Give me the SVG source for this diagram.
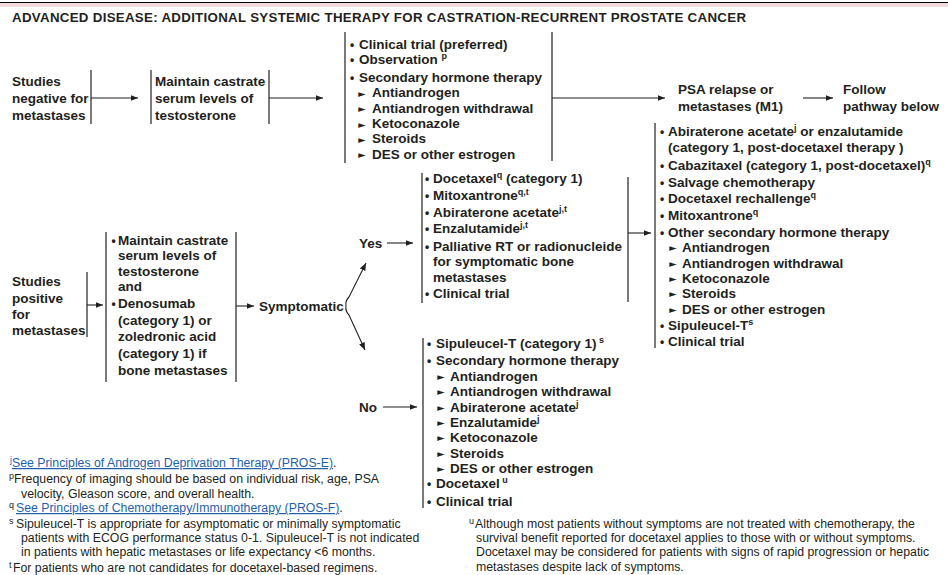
<svg xmlns="http://www.w3.org/2000/svg" width="948" height="575" viewBox="0 0 948 575">
<style>
text{font-family:"Liberation Sans",Arial,sans-serif;fill:#231f20}
.b{font-weight:bold;font-size:13.5px}
.t{font-weight:bold;font-size:13.3px}
.f{font-size:12.3px}
.s{font-size:9px}
.bu{font-weight:bold;font-size:12px}
.tri{font-family:"DejaVu Sans",sans-serif;font-size:9.5px}
.lk{fill:#1f5fae;text-decoration:underline}
.ln{stroke:#231f20;stroke-width:1.1;fill:none}
.bar{stroke:#231f20;stroke-width:1.2}
</style>
<defs>
<marker id="ah" markerWidth="8" markerHeight="6" refX="7.5" refY="3" orient="auto" markerUnits="userSpaceOnUse">
<path d="M0,0 L7.5,3 L0,6 z" fill="#231f20"/>
</marker>
</defs>
<line x1="0" y1="2.5" x2="948" y2="2.5" stroke="#000" stroke-width="1.2"/>
<rect x="0" y="3.2" width="948" height="3.6" fill="#f3d8dc"/>
<text id="title" class="t" x="12" y="22" textLength="734">ADVANCED DISEASE: ADDITIONAL SYSTEMIC THERAPY  FOR CASTRATION-RECURRENT PROSTATE CANCER</text>

<g id="connectors">
<line class="bar" x1="91" y1="70" x2="91" y2="124"/>
<line class="ln" x1="91" y1="98" x2="138" y2="98" marker-end="url(#ah)"/>
<line class="bar" x1="151" y1="70" x2="151" y2="124"/>
<line class="bar" x1="269" y1="70" x2="269" y2="124"/>
<line class="ln" x1="269" y1="98" x2="323" y2="98" marker-end="url(#ah)"/>
<line class="bar" x1="345" y1="32" x2="345" y2="163"/>
<line class="bar" x1="552" y1="32" x2="552" y2="161"/>
<line class="ln" x1="552" y1="98" x2="665" y2="98" marker-end="url(#ah)"/>
<line class="ln" x1="803" y1="98" x2="833" y2="98" marker-end="url(#ah)"/>
<line class="bar" x1="655" y1="123" x2="655" y2="348"/>
<line class="bar" x1="87" y1="272" x2="87" y2="337"/>
<line class="ln" x1="87" y1="305" x2="103" y2="305" marker-end="url(#ah)"/>
<line class="bar" x1="106" y1="232" x2="106" y2="382"/>
<line class="bar" x1="236" y1="232" x2="236" y2="382"/>
<line class="ln" x1="236" y1="306" x2="254" y2="306" marker-end="url(#ah)"/>
<path class="ln" d="M346,306 Q345,301 349,297 L366,263" marker-end="url(#ah)"/>
<path class="ln" d="M346,306 Q345,311 349,315 L365,350" marker-end="url(#ah)"/>
<line class="ln" x1="387" y1="243" x2="413" y2="243" marker-end="url(#ah)"/>
<line class="bar" x1="422" y1="173" x2="422" y2="303"/>
<line class="bar" x1="628" y1="177" x2="628" y2="302"/>
<line class="ln" x1="628" y1="233" x2="651" y2="233" marker-end="url(#ah)"/>
<line class="ln" x1="383" y1="407" x2="417" y2="407" marker-end="url(#ah)"/>
<line class="bar" x1="423" y1="338" x2="423" y2="508"/>
</g>

<g id="neg-studies">
<text class="b" x="12" y="86">Studies</text>
<text class="b" x="12" y="103">negative for</text>
<text class="b" x="12" y="120">metastases</text>
</g>
<g id="neg-maintain">
<text class="b" x="155" y="86">Maintain castrate</text>
<text class="b" x="155" y="103">serum levels of</text>
<text class="b" x="155" y="120">testosterone</text>
</g>
<g id="neg-options">
<text class="bu" x="352" y="48.5" text-anchor="middle">•</text><text class="b" x="359" y="48.5">Clinical trial (preferred)</text>
<text class="bu" x="352" y="64" text-anchor="middle">•</text><text class="b" x="359" y="64">Observation <tspan class="s" dy="-5">p</tspan></text>
<text class="bu" x="352" y="81.5" text-anchor="middle">•</text><text class="b" x="359" y="81.5">Secondary hormone therapy</text>
<text class="tri" x="362" y="96.5" text-anchor="middle">►</text><text class="b" x="372" y="97">Antiandrogen</text>
<text class="tri" x="362" y="112" text-anchor="middle">►</text><text class="b" x="372" y="112.5">Antiandrogen withdrawal</text>
<text class="tri" x="362" y="127.5" text-anchor="middle">►</text><text class="b" x="372" y="128">Ketoconazole</text>
<text class="tri" x="362" y="142.5" text-anchor="middle">►</text><text class="b" x="372" y="143">Steroids</text>
<text class="tri" x="362" y="158" text-anchor="middle">►</text><text class="b" x="372" y="158.5">DES or other estrogen</text>
</g>
<g id="psa-relapse">
<text class="b" x="678" y="94">PSA relapse or</text>
<text class="b" x="678" y="111">metastases (M1)</text>
</g>
<g id="follow">
<text class="b" x="843" y="94">Follow</text>
<text class="b" x="843" y="111">pathway below</text>
</g>

<g id="pos-studies">
<text class="b" x="12" y="285.5">Studies</text>
<text class="b" x="12" y="302.5">positive</text>
<text class="b" x="12" y="318.5">for</text>
<text class="b" x="12" y="334.5">metastases</text>
</g>
<g id="pos-maintain">
<text class="bu" x="113.5" y="244.5" text-anchor="middle">•</text><text class="b" x="118" y="244.5">Maintain castrate</text>
<text class="b" x="118" y="260">serum levels of</text>
<text class="b" x="118" y="275.5">testosterone</text>
<text class="b" x="118" y="291">and</text>
<text class="bu" x="113.5" y="307.5" text-anchor="middle">•</text><text class="b" x="118" y="307.5">Denosumab</text>
<text class="b" x="118" y="324.5">(category 1) or</text>
<text class="b" x="118" y="341">zoledronic acid</text>
<text class="b" x="118" y="357.5">(category 1) if</text>
<text class="b" x="118" y="374.5">bone metastases</text>
</g>
<g id="symptomatic">
<text class="b" x="259" y="310.5">Symptomatic</text>
</g>
<g id="yes">
<text class="b" x="359" y="247.5">Yes</text>
</g>
<g id="no">
<text class="b" x="359" y="411.5">No</text>
</g>
<g id="yes-options">
<text class="bu" x="427" y="182.5" text-anchor="middle">•</text><text class="b" x="433" y="182.5">Docetaxel<tspan class="s" dy="-5">q</tspan><tspan dy="5"> (category 1)</tspan></text>
<text class="bu" x="427" y="199.5" text-anchor="middle">•</text><text class="b" x="433" y="199.5">Mitoxantrone<tspan class="s" dy="-5">q,t</tspan></text>
<text class="bu" x="427" y="216.5" text-anchor="middle">•</text><text class="b" x="433" y="216.5">Abiraterone acetate<tspan class="s" dy="-5">j,t</tspan></text>
<text class="bu" x="427" y="232.5" text-anchor="middle">•</text><text class="b" x="433" y="232.5">Enzalutamide<tspan class="s" dy="-5">j,t</tspan></text>
<text class="bu" x="427" y="250.5" text-anchor="middle">•</text><text class="b" x="433" y="250.5">Palliative RT or radionucleide</text>
<text class="b" x="433" y="265.5">for symptomatic bone</text>
<text class="b" x="433" y="281.5">metastases</text>
<text class="bu" x="427" y="297.5" text-anchor="middle">•</text><text class="b" x="433" y="297.5">Clinical trial</text>
</g>
<g id="no-options">
<text class="bu" x="429" y="347.5" text-anchor="middle">•</text><text class="b" x="436" y="347.5">Sipuleucel-T (category 1)<tspan class="s" dy="-5"> s</tspan></text>
<text class="bu" x="429" y="364.5" text-anchor="middle">•</text><text class="b" x="436" y="364.5">Secondary hormone therapy</text>
<text class="tri" x="441" y="380" text-anchor="middle">►</text><text class="b" x="450" y="380.5">Antiandrogen</text>
<text class="tri" x="441" y="395" text-anchor="middle">►</text><text class="b" x="450" y="395.5">Antiandrogen withdrawal</text>
<text class="tri" x="441" y="411" text-anchor="middle">►</text><text class="b" x="450" y="411.5">Abiraterone acetate<tspan class="s" dy="-5">j</tspan></text>
<text class="tri" x="441" y="426" text-anchor="middle">►</text><text class="b" x="450" y="426.5">Enzalutamide<tspan class="s" dy="-5">j</tspan></text>
<text class="tri" x="441" y="441" text-anchor="middle">►</text><text class="b" x="450" y="441.5">Ketoconazole</text>
<text class="tri" x="441" y="457" text-anchor="middle">►</text><text class="b" x="450" y="457.5">Steroids</text>
<text class="tri" x="441" y="472" text-anchor="middle">►</text><text class="b" x="450" y="472.5">DES or other estrogen</text>
<text class="bu" x="429" y="487.5" text-anchor="middle">•</text><text class="b" x="436" y="487.5">Docetaxel<tspan class="s" dy="-5"> u</tspan></text>
<text class="bu" x="429" y="505.5" text-anchor="middle">•</text><text class="b" x="436" y="505.5">Clinical trial</text>
</g>
<g id="subsequent-options">
<text class="bu" x="662" y="135.5" text-anchor="middle">•</text><text class="b" x="668" y="135.5">Abiraterone acetate<tspan class="s" dy="-5">j</tspan><tspan dy="5"> or enzalutamide</tspan></text>
<text class="b" x="668" y="152">(category 1, post-docetaxel therapy )</text>
<text class="bu" x="662" y="169.5" text-anchor="middle">•</text><text class="b" x="668" y="169.5">Cabazitaxel (category 1, post-docetaxel)<tspan class="s" dy="-5">q</tspan></text>
<text class="bu" x="662" y="186.5" text-anchor="middle">•</text><text class="b" x="668" y="186.5">Salvage chemotherapy</text>
<text class="bu" x="662" y="202.5" text-anchor="middle">•</text><text class="b" x="668" y="202.5">Docetaxel rechallenge<tspan class="s" dy="-5">q</tspan></text>
<text class="bu" x="662" y="220" text-anchor="middle">•</text><text class="b" x="668" y="220">Mitoxantrone<tspan class="s" dy="-5">q</tspan></text>
<text class="bu" x="662" y="236.5" text-anchor="middle">•</text><text class="b" x="668" y="236.5">Other secondary hormone therapy</text>
<text class="tri" x="673" y="251" text-anchor="middle">►</text><text class="b" x="682" y="251.5">Antiandrogen</text>
<text class="tri" x="673" y="267" text-anchor="middle">►</text><text class="b" x="682" y="267.5">Antiandrogen withdrawal</text>
<text class="tri" x="673" y="282" text-anchor="middle">►</text><text class="b" x="682" y="282.5">Ketoconazole</text>
<text class="tri" x="673" y="297" text-anchor="middle">►</text><text class="b" x="682" y="297.5">Steroids</text>
<text class="tri" x="673" y="313" text-anchor="middle">►</text><text class="b" x="682" y="313.5">DES or other estrogen</text>
<text class="bu" x="662" y="329.5" text-anchor="middle">•</text><text class="b" x="668" y="329.5">Sipuleucel-T<tspan class="s" dy="-5">s</tspan></text>
<text class="bu" x="662" y="345.5" text-anchor="middle">•</text><text class="b" x="668" y="345.5">Clinical trial</text>
</g>

<g id="footnotes-left">
<text class="f" x="10" y="467"><tspan class="s lk" dy="-4">j</tspan><tspan class="lk" dy="4">See Principles of Androgen Deprivation Therapy (PROS-E)</tspan>.</text>
<text class="f" x="9" y="483"><tspan class="s" dy="-4">p</tspan><tspan dy="4">Frequency of imaging should be based on individual risk, age, PSA</tspan></text>
<text class="f" x="21" y="498">velocity, Gleason score, and overall health.</text>
<text class="f" x="9" y="512"><tspan class="s" dy="-4">q</tspan><tspan class="lk" dy="4" x="16">See Principles of Chemotherapy/Immunotherapy (PROS-F)</tspan>.</text>
<text class="f" x="9" y="528"><tspan class="s" dy="-4">s</tspan><tspan dy="4" x="16">Sipuleucel-T is appropriate for asymptomatic or minimally symptomatic</tspan></text>
<text class="f" x="21" y="542">patients with ECOG performance status 0-1. Sipuleucel-T is not indicated</text>
<text class="f" x="21" y="556">in patients with hepatic metastases or life expectancy &lt;6 months.</text>
<text class="f" x="9" y="572"><tspan class="s" dy="-4">t</tspan><tspan dy="4" x="13">For patients who are not candidates for docetaxel-based regimens.</tspan></text>
</g>
<g id="footnotes-right">
<text class="f" x="469" y="528"><tspan class="s" dy="-4">u</tspan><tspan dy="4" x="475">Although most patients without symptoms are not treated with chemotherapy, the</tspan></text>
<text class="f" x="476" y="542">survival benefit reported for docetaxel applies to those with or without symptoms.</text>
<text class="f" x="476" y="556">Docetaxel may be considered for patients with signs of rapid progression or hepatic</text>
<text class="f" x="476" y="571">metastases despite lack of symptoms.</text>
</g>
</svg>
